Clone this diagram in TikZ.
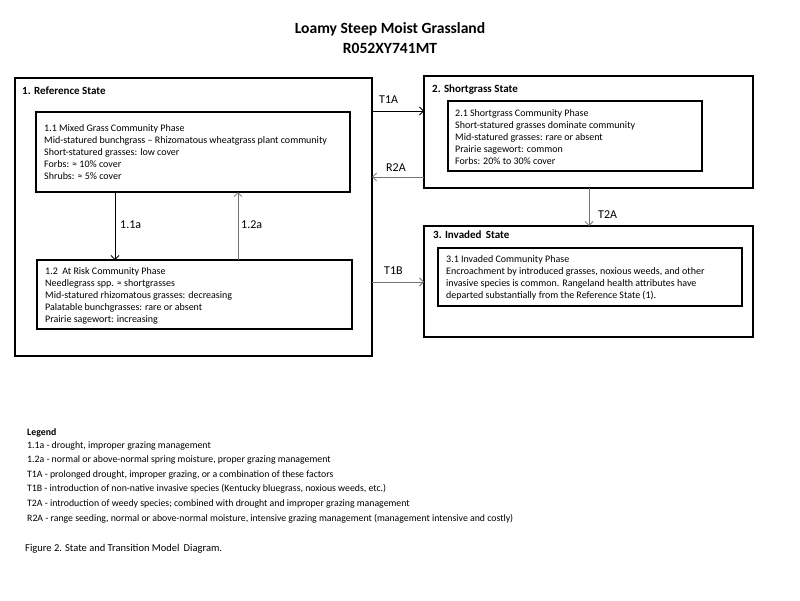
\documentclass[tikz,border=0pt]{standalone}
\usepackage{fontspec}
\setmainfont{Carlito}
\usetikzlibrary{arrows.meta}
\begin{document}
\begin{tikzpicture}[x=1pt,y=-1pt,
  statebox/.style={draw=black,line width=2pt},
  phasebox/.style={draw=black,line width=2pt},
  phasetext/.style={anchor=base west,inner sep=0pt,align=left,font=\fontsize{10}{12}\selectfont},
  statelabel/.style={anchor=base west,inner sep=0pt,font=\fontsize{11}{12}\selectfont\bfseries},
  trans/.style={line width=0.8pt,-{Straight Barb[length=4pt,width=8pt]}},
  transg/.style={trans,draw=black!55},
  translabel/.style={anchor=base west,inner sep=0pt,font=\fontsize{12}{14}\selectfont},
  legendtext/.style={anchor=base west,inner sep=0pt,align=left,font=\fontsize{9.8}{14.6}\selectfont},
  titletext/.style={anchor=base,inner sep=0pt,align=center,font=\fontsize{15.6}{20}\selectfont\bfseries}]
\useasboundingbox[fill=white] (0,0) rectangle (800,600);
% title (base anchor = last line)
\node[titletext] (title) at (390,53) {Loamy Steep Moist Grassland\\R052XY741MT};
% state boxes
\draw[statebox] (15,78) rectangle (372,356);
\draw[statebox] (424,76) rectangle (753,188);
\draw[statebox] (424,226) rectangle (753,337);
\node[statelabel] (l1) at (22,94) {1. Reference State};
\node[statelabel] (l2) at (432,92) {2. Shortgrass State};
\node[statelabel] (l3) at (433,238) {3. Invaded\, State};
% phase boxes
\draw[phasebox] (36,112) rectangle (350,192);
\draw[phasebox] (37,260) rectangle (352,329);
\draw[phasebox] (448,101) rectangle (702,171);
\draw[phasebox] (438,248) rectangle (742,306);
% multi-line texts: base anchor is the baseline of the last line
\node[phasetext] (p11) at (44,179) {1.1 Mixed Grass Community Phase\\Mid-statured bunchgrass -- Rhizomatous wheatgrass plant community\\Short-statured grasses: low cover\\Forbs: ≈ 10\% cover\\Shrubs: ≈ 5\% cover};
\node[phasetext] (p12) at (45,322) {1.2\ \ At Risk Community Phase\\Needlegrass spp. ≈ shortgrasses\\Mid-statured rhizomatous grasses: decreasing\\Palatable bunchgrasses: rare or absent\\Prairie sagewort: increasing};
\node[phasetext] (p21) at (455,164) {2.1 Shortgrass Community Phase\\Short-statured grasses dominate community\\Mid-statured grasses: rare or absent\\Prairie sagewort: common\\Forbs: 20\% to 30\% cover};
\node[phasetext] (p31) at (446,298) {3.1 Invaded Community Phase\\Encroachment by introduced grasses, noxious weeds, and other\\invasive species is common. Rangeland health attributes have\\departed substantially from the Reference State (1).};
% connector end points
\coordinate (a11s) at (115,192); \coordinate (a11e) at (115,260);
\coordinate (a12s) at (238,260); \coordinate (a12e) at (238,192);
\coordinate (t1as) at (372,111); \coordinate (t1ae) at (424,111);
\coordinate (r2as) at (424,177); \coordinate (r2ae) at (372,177);
\coordinate (t1bs) at (372,282); \coordinate (t1be) at (424,282);
\coordinate (t2as) at (589,188); \coordinate (t2ae) at (589,226);
\draw[trans] (a11s) -- (a11e);
\draw[transg] (a12s) -- (a12e);
\draw[trans] (t1as) -- (t1ae);
\draw[transg] (r2as) -- (r2ae);
\draw[transg] (t1bs) -- (t1be);
\draw[transg] (t2as) -- (t2ae);
\node[translabel] (la11) at (120,228) {1.1a};
\node[translabel] (la12) at (241,228) {1.2a};
\node[translabel] (lt1a) at (379,103) {T1A};
\node[translabel] (lr2a) at (386,171) {R2A};
\node[translabel] (lt1b) at (384,274) {T1B};
\node[translabel] (lt2a) at (598,218) {T2A};
% legend
\node[legendtext,font=\fontsize{9.8}{14.6}\selectfont\bfseries] (leg) at (27,435) {Legend};
\node[legendtext] (legt) at (27,521) {1.1a - drought, improper grazing management\\
1.2a - normal or above-normal spring moisture, proper grazing management\\
T1A - prolonged drought, improper grazing, or a combination of these factors\\
T1B - introduction of non-native invasive species (Kentucky bluegrass, noxious weeds, etc.)\\
T2A - introduction of weedy species; combined with drought and improper grazing management\\
R2A - range seeding, normal or above-normal moisture, intensive grazing management (management intensive and costly)};
\node[legendtext,font=\fontsize{10.5}{13}\selectfont] (cap) at (25,551) {Figure 2. State and Transition Model\, Diagram.};
\end{tikzpicture}
\end{document}
